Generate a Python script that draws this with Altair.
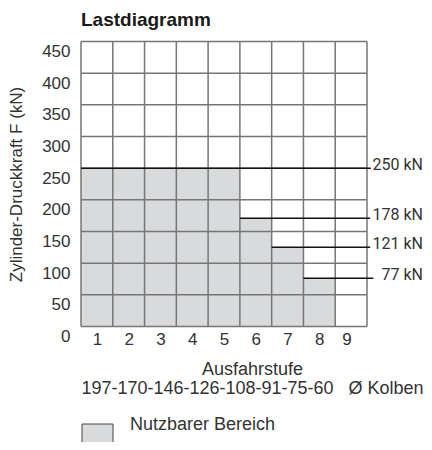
import altair as alt
import pandas as pd

# --- data ---
stufen = [1, 2, 3, 4, 5, 6, 7, 8, 9]
kraft_kn = [250, 250, 250, 250, 250, 171, 125, 76, 0]          # drawn height of usable range
raster_kn = [0, 50, 100, 150, 200, 250, 300, 350, 400, 450]     # y grid / ticks
raster_stufen = [0, 1, 2, 3, 4, 5, 6, 7, 8, 9]                  # x grid
last_label = ["250 kN", "178 kN", "121 kN", "77 kN"]
last_kn = [250, 171, 125, 76]                                   # drawn position of load lines
last_ab_stufe = [0, 5, 6, 7]                                    # line starts at left of this column
last_bis_stufe = [9.12, 9.1, 9.1, 9.2]
kolben = "197-170-146-126-108-91-75-60"
legend_label = ["Nutzbarer Bereich"]

W, H = 286, 285
FONT = "Liberation Sans"
NARROW = "Roboto"
TXT = "#333333"
GRID = "#767676"
FILL = "#d9dadc"

xscale = alt.Scale(domain=[0, 9], nice=False, zero=False)
yscale = alt.Scale(domain=[0, 450], nice=False)

df_bar = pd.DataFrame({"stufe": stufen, "kraft": kraft_kn})
df_bar["start"] = df_bar["stufe"] - 1

xaxis = alt.Axis(
    values=stufen, grid=False, domain=False, ticks=False, labelOverlap=False,
    labelOffset=-W / 18, labelPadding=5, labelFontSize=17, labelColor=TXT,
    labelFont=FONT,
    title=["Ausfahrstufe", kolben + "\u00a0\u00a0\u00a0\u00d8 Kolben"],
    titleX=171, titleY=34, titleAlign="center", titleBaseline="top",
    titleFontSize=18, titleFontWeight="normal", titleColor=TXT,
    titleLineHeight=19, titleFont=FONT,
)
yaxis = alt.Axis(
    values=raster_kn, grid=False, domain=False, ticks=False, labelOverlap=False,
    labelOffset=10, labelPadding=11, labelFontSize=17, labelColor=TXT,
    labelFont=FONT,
    title="Zylinder-Druckkraft F (kN)", titleFontSize=17,
    titleFontWeight="normal", titleColor=TXT, titlePadding=16, titleFont=FONT,
)

bars = alt.Chart(df_bar).mark_rect(color=FILL).encode(
    x=alt.X("start:Q", scale=xscale, axis=xaxis),
    x2="stufe:Q",
    y=alt.Y("kraft:Q", scale=yscale, axis=yaxis),
    y2=alt.datum(0),
)

vgrid = alt.Chart(pd.DataFrame({"start": raster_stufen})).mark_rule(
    color=GRID, strokeWidth=1.5
).encode(x=alt.X("start:Q", scale=xscale, axis=xaxis))

hgrid = alt.Chart(pd.DataFrame({"kraft": raster_kn})).mark_rule(
    color=GRID, strokeWidth=1.5
).encode(y=alt.Y("kraft:Q", scale=yscale, axis=yaxis))

df_last = pd.DataFrame({
    "label": last_label, "kraft": last_kn,
    "start": last_ab_stufe, "bis": last_bis_stufe,
})
lines = alt.Chart(df_last).mark_rule(color="#111111", strokeWidth=1.5).encode(
    x=alt.X("start:Q", scale=xscale, axis=xaxis), x2="bis:Q",
    y=alt.Y("kraft:Q", scale=yscale, axis=yaxis),
)
labels = alt.Chart(df_last).mark_text(
    align="right", baseline="middle", font=NARROW, fontSize=16, color=TXT, dy=-3
).encode(x=alt.value(342), y=alt.Y("kraft:Q", scale=yscale, axis=yaxis), text="label:N")

df_leg = pd.DataFrame({"name": legend_label})
leg_box = alt.Chart(df_leg).mark_square(
    size=31 * 31, fill=FILL, stroke="#444444", strokeWidth=1, opacity=1
).encode(x=alt.value(16.5), y=alt.value(398))
leg_txt = alt.Chart(df_leg).mark_text(
    align="left", baseline="middle", font=FONT, fontSize=18, color=TXT
).encode(x=alt.value(49), y=alt.value(383), text="name:N")

chart = alt.layer(bars, vgrid, hgrid, lines, labels, leg_box, leg_txt).properties(
    width=W, height=H,
    autosize=alt.AutoSizeParams(type="none"),
    padding={"left": 73, "top": 33.5, "right": 57, "bottom": 115.5},
    title=alt.TitleParams(
        "Lastdiagramm", anchor="start", frame="group", fontSize=19,
        fontWeight="bold", color="#1a1a1a", font=FONT, offset=10.5,
    ),
).configure_view(stroke=None).configure_axis(labelOverlap=False)

chart.save("out.html", embed_options={"renderer": "svg", "actions": False})
